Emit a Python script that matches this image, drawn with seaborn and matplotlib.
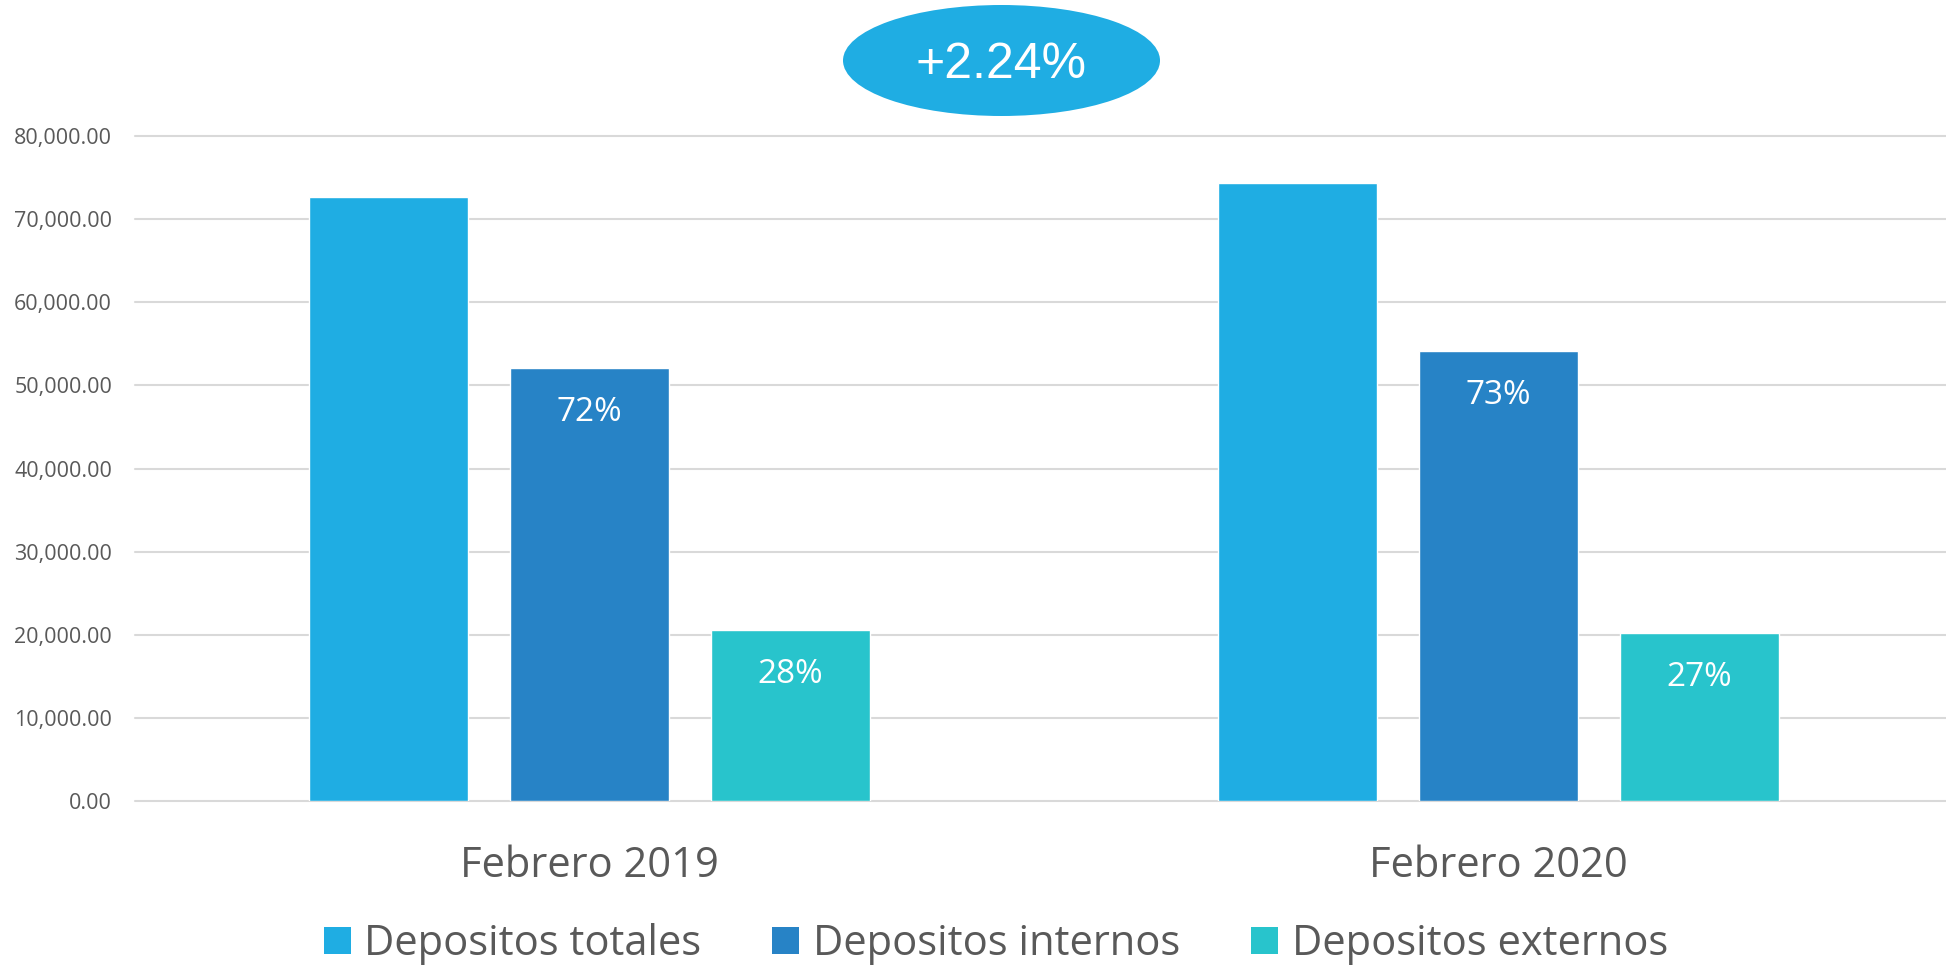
import pandas as pd
import matplotlib.pyplot as plt
import seaborn as sns
from matplotlib.patches import Ellipse, Patch
from matplotlib.ticker import FuncFormatter

periods = ["Febrero 2019", "Febrero 2020"]
series = ["Depositos totales", "Depositos internos", "Depositos externos"]
totales = [72700, 74330]
internos = [52140, 54150]
externos = [20590, 20260]
pct_internos = ["72%", "73%"]
pct_externos = ["28%", "27%"]
growth_label = "+2.24%"
colors = ["#1FADE3", "#2783C6", "#28C4CC"]

sns.set_style("white")
plt.rcParams['font.family'] = ['Open Sans', 'DejaVu Sans']

df = pd.DataFrame({
    "periodo": periods * 3,
    "serie": [s for s in series for _ in periods],
    "valor": totales + internos + externos,
})

fig = plt.figure(figsize=(19.46, 9.66), dpi=100)
ax = fig.add_axes([135 / 1946, 165 / 966, 1817.8 / 1946, 665 / 966])

sns.barplot(data=df, x="periodo", y="valor", hue="serie", order=periods,
            hue_order=series, palette=colors, width=0.664, gap=0.211,
            saturation=1, errorbar=None, legend=False, ax=ax)

ax.set_xlim(-0.5, 1.5)
ax.set_ylim(0, 80000)
ax.set_yticks(range(0, 80001, 10000))
ax.yaxis.set_major_formatter(FuncFormatter(lambda v, p: f"{v:,.2f}"))
ax.set_axisbelow(True)
ax.yaxis.grid(True, color="#D9D9D9", linewidth=1.5)
for line in ax.get_ygridlines():
    line.set_clip_on(False)
for s in ax.spines.values():
    s.set_visible(False)
ax.set_xlabel("")
ax.set_ylabel("")
ax.tick_params(axis="y", length=0, pad=16.5, labelsize=15.5, labelcolor="#595959")
ax.tick_params(axis="x", length=0, pad=32, labelsize=30, labelcolor="#595959")

for container, labels in [(ax.containers[1], pct_internos), (ax.containers[2], pct_externos)]:
    for bar, lab in zip(container, labels):
        ax.annotate(lab, (bar.get_x() + bar.get_width() / 2, bar.get_height()),
                    xytext=(0, -32), textcoords="offset points",
                    ha="center", va="center", color="white", fontsize=24)

fig.patches.append(Ellipse((1001.5 / 1946, 1 - 60.5 / 966), 317 / 1946, 111 / 966,
                           transform=fig.transFigure, facecolor=colors[0], edgecolor="none"))
fig.text(1001 / 1946, 1 - 65 / 966, growth_label, ha="center", va="center",
         color="white", fontsize=36, family="Liberation Sans")

handles = [Patch(facecolor=c, edgecolor="none") for c in colors]
fig.legend(handles, series, loc="center", bbox_to_anchor=(996 / 1946, 1 - 944 / 966),
           ncol=3, frameon=False, fontsize=30, handlelength=0.65, handleheight=0.63,
           handletextpad=0.33, columnspacing=1.7, labelcolor="#595959",
           borderpad=0.2)

fig.savefig("out.png", dpi=100)
